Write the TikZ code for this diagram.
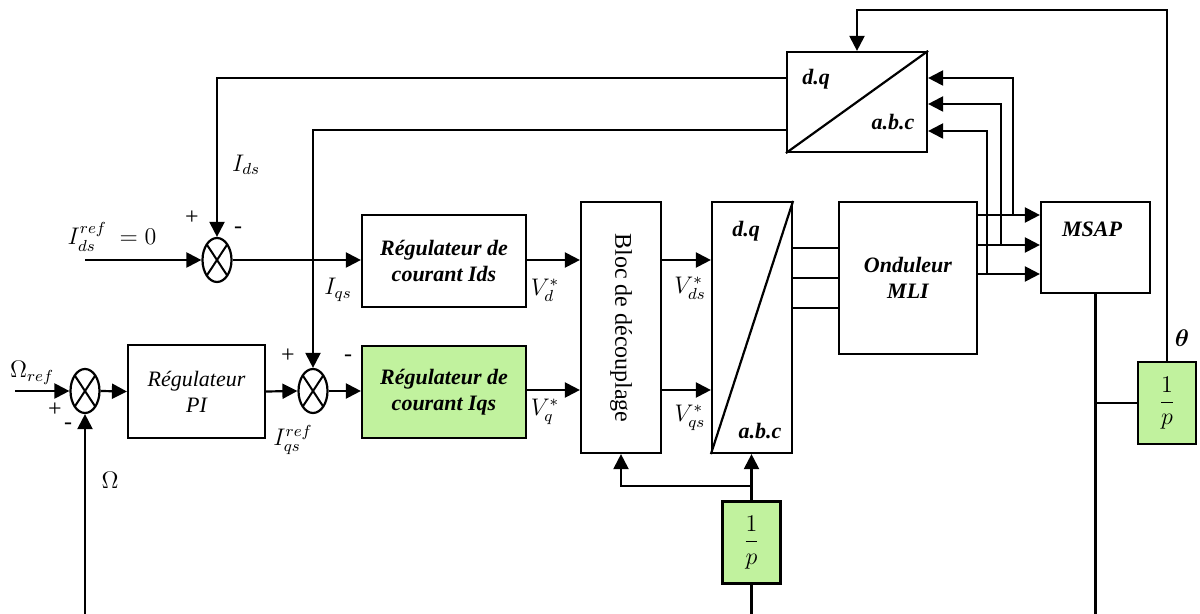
\documentclass[tikz,border=0pt]{standalone}
\usepackage{amsmath, amssymb}
\usepackage{fontspec}
\setmainfont{Liberation Serif}
\usetikzlibrary{shapes.geometric, arrows.meta, positioning, calc}
\definecolor{blocgreen}{RGB}{193, 242, 158}

\begin{document}
\begin{tikzpicture}[
  x=0.5pt, y=-0.5pt, line width=1.1pt,
  blk/.style={draw, rectangle, align=center, inner sep=2pt, font=\fontsize{11}{13}\selectfont\bfseries\itshape},
  sum/.style={draw, ellipse, minimum width=14.5pt, minimum height=22pt, inner sep=0pt,
    path picture={\draw[line width=1pt] (path picture bounding box.north west) -- (path picture bounding box.south east)
      (path picture bounding box.north east) -- (path picture bounding box.south west);}},
  intg/.style={draw, fill=blocgreen, minimum width=29pt, minimum height=41pt, inner sep=0pt, font=\fontsize{13}{15}\selectfont},
  arr/.style={-{Triangle[length=7.5pt, width=7.5pt]}},
  sig/.style={inner sep=1pt, font=\fontsize{12}{14}\selectfont},
  tag/.style={inner sep=1pt, font=\fontsize{11}{13}\selectfont\bfseries\itshape}
]
  \useasboundingbox (0,0) rectangle (1200,614);

  \node[sum] (sumw) at (85,391) {};
  \node[sum] (sumd) at (217,260) {};
  \node[sum] (sumq) at (313,391) {};

  \node[blk, font=\fontsize{11}{13}\selectfont\itshape, minimum width=68.5pt, minimum height=46.5pt] (pi) at (196.5,391.5) {Régulateur\\PI};
  \node[blk, minimum width=82pt, minimum height=46pt] (regd) at (444,261) {Régulateur de\\courant Ids};
  \node[blk, fill=blocgreen, minimum width=82pt, minimum height=46pt] (regq) at (444,392) {Régulateur de\\courant Iqs};
  \node[blk, minimum width=40pt, minimum height=125.5pt] (bloc) at (621,327.5) {};
  \node[sig, rotate=-90] (bloctxt) at (621,328) {Bloc de découplage};
  \node[blk, minimum width=40pt, minimum height=125.5pt] (park) at (752,327.5) {};
  \node[blk, minimum width=69pt, minimum height=76pt] (ond) at (908,278) {Onduleur\\MLI};
  \node[blk, minimum width=54.5pt, minimum height=45.5pt] (msap) at (1095.5,247.5) {};
  \node[tag] (msaptxt) at (1092,229) {MSAP};
  \node[blk, minimum width=70pt, minimum height=50pt] (abcdq) at (857,102) {};
  \node[intg] (intq) at (1167,403) {$\dfrac{1}{p}$};
  \node[intg] (intb) at (751.5,542.5) {$\dfrac{1}{p}$};

  \draw (park.north east) -- (park.south west);
  \draw (abcdq.south west) -- (abcdq.north east);
  \node[tag] (parkdq) at (746,231) {d.q};
  \node[tag] (parkabc) at (760,431) {a.b.c};
  \node[tag] (abcdqdq) at (816,79) {d.q};
  \node[tag] (abcdqabc) at (893,122) {a.b.c};

  \coordinate (wref) at (15,391);
  \coordinate (dref) at (85,260);
  \draw[arr] (wref) -- (sumw.west);
  \draw[arr] (dref) -- (sumd.west);
  \draw[arr] (sumw.east) -- (pi.west);
  \draw[arr] (pi.east) -- (sumq.west);
  \draw[arr] (sumq.east) -- (sumq.east -| regq.west);
  \draw[arr] (sumd.east) -- (sumd.east -| regd.west);
  \draw[arr] (regd.east |- 0,260) -- (bloc.west |- 0,260);
  \draw[arr] (regq.east |- 0,390) -- (bloc.west |- 0,390);
  \draw[arr] (bloc.east |- 0,260) -- (park.west |- 0,260);
  \draw[arr] (bloc.east |- 0,390) -- (park.west |- 0,390);

  \draw[arr] (abcdq.west |- 0,78) -| (sumd.north);
  \draw[arr] (abcdq.west |- 0,130) -| (sumq.north);

  \foreach \y in {248,278,308}
    \draw (park.east |- 0,\y) -- (ond.west |- 0,\y);
  \foreach \y/\x/\t in {215/1013/78, 245/1001/104, 274/987/131} {
    \draw[arr] (ond.east |- 0,\y) -- (msap.west |- 0,\y);
    \draw[arr] (\x,\y) -- (\x,\t) -- (abcdq.east |- 0,\t);
  }

  \coordinate (ttop) at (1167,10);
  \draw[arr] (intq.north) -- (ttop) -| (abcdq.north);
  \draw (msap.south) -- (msap.south |- 0,614);
  \draw (intq.west) -- (intq.west -| msap.south);

  \draw[arr] (85,614) -- (sumw.south);
  \draw (intb.south |- 0,614) -- (intb.south);
  \draw[arr] (intb.north) -- (intb.north |- park.south);
  \draw[arr] (intb.north |- 0,486) -| (bloc.south);

  \node[sig] (lwref) at (32,373) {$\Omega_{ref}$};
  \node[sig] (lwp) at (55,410) {+};
  \node[sig] (lwm) at (68,426) {-};
  \node[sig] (lw) at (110,480) {$\Omega$};
  \node[sig] (ldref) at (112,237) {$I_{ds}^{ref}\ = 0$};
  \node[sig] (ldp) at (192,218) {+};
  \node[sig] (ldm) at (238,230) {-};
  \node[sig] (lids) at (246,165) {$I_{ds}$};
  \node[sig] (liqs) at (338,290) {$I_{qs}$};
  \node[sig] (lqp) at (288,356) {+};
  \node[sig] (lqm) at (348,358) {-};
  \node[sig] (lqref) at (293,440) {$I_{qs}^{ref}$};
  \node[sig] (lvd) at (545,290) {$V_d^*$};
  \node[sig] (lvq) at (545,412) {$V_q^*$};
  \node[sig] (lvds) at (690,288) {$V_{ds}^*$};
  \node[sig] (lvqs) at (690,418) {$V_{qs}^*$};
  \node[sig] (ltheta) at (1182,338) {$\boldsymbol{\theta}$};
\end{tikzpicture}
\end{document}
